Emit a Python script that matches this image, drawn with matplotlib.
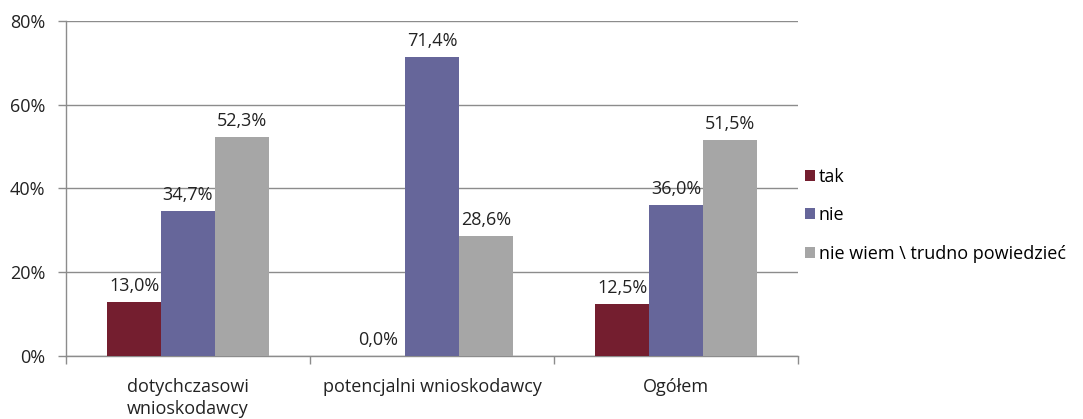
import matplotlib.pyplot as plt
import numpy as np
from matplotlib.ticker import FuncFormatter, FixedLocator

plt.rcParams['font.family'] = ['Open Sans', 'DejaVu Sans']

categories = ["dotychczasowi\nwnioskodawcy", "potencjalni wnioskodawcy", "Ogółem"]
series_names = ["tak", "nie", "nie wiem \\ trudno powiedzieć"]
tak = [13.0, 0.0, 12.5]
nie = [34.7, 71.4, 36.0]
nie_wiem = [52.3, 28.6, 51.5]
colors = ["#741E2F", "#66669A", "#A6A6A6"]

fig = plt.figure(figsize=(10.83, 4.19), dpi=100)
ax = fig.add_axes([0.0609, 0.1504, 0.6760, 0.7995])

x = np.arange(len(categories))
width = 0.221
grid_col = "#8C8C8C"
fs = 13

for i, (vals, name, col) in enumerate(zip([tak, nie, nie_wiem], series_names, colors)):
    pos = x + (i - 1) * width
    ax.bar(pos, vals, width, color=col, label=name, zorder=3)
    for p, v in zip(pos, vals):
        ax.annotate(f"{v:.1f}%".replace(".", ","), (p, v), xytext=(0, 5),
                    textcoords="offset points", ha="center", va="bottom",
                    fontsize=fs, color="#222222")

ax.set_xlim(-0.5, 2.5)
ax.set_ylim(0, 80)
ax.set_yticks([0, 20, 40, 60, 80])
ax.yaxis.set_major_formatter(FuncFormatter(lambda v, _: f"{v:.0f}%"))
ax.yaxis.grid(True, color=grid_col, linewidth=1, zorder=0)

ax.set_xticks(x)
ax.set_xticklabels(categories, linespacing=1.25)
ax.xaxis.set_minor_locator(FixedLocator([-0.5, 0.5, 1.5, 2.5]))
ax.tick_params(axis="x", which="major", length=0, pad=16, labelsize=fs, labelcolor="#222222")
ax.tick_params(axis="x", which="minor", length=6, color=grid_col, width=1)
ax.tick_params(axis="y", length=6, color=grid_col, width=1, labelsize=fs, labelcolor="#222222", pad=9)

for s in ["top", "right"]:
    ax.spines[s].set_visible(False)
for s in ["left", "bottom"]:
    ax.spines[s].set_color(grid_col)
    ax.spines[s].set_linewidth(1)

leg = ax.legend(loc="center left", bbox_to_anchor=(0.995, 0.42), frameon=False,
                fontsize=fs, handlelength=0.55, handleheight=0.55, handletextpad=0.2,
                labelspacing=1.15, borderaxespad=0.2)

fig.savefig("out.png", dpi=100)
